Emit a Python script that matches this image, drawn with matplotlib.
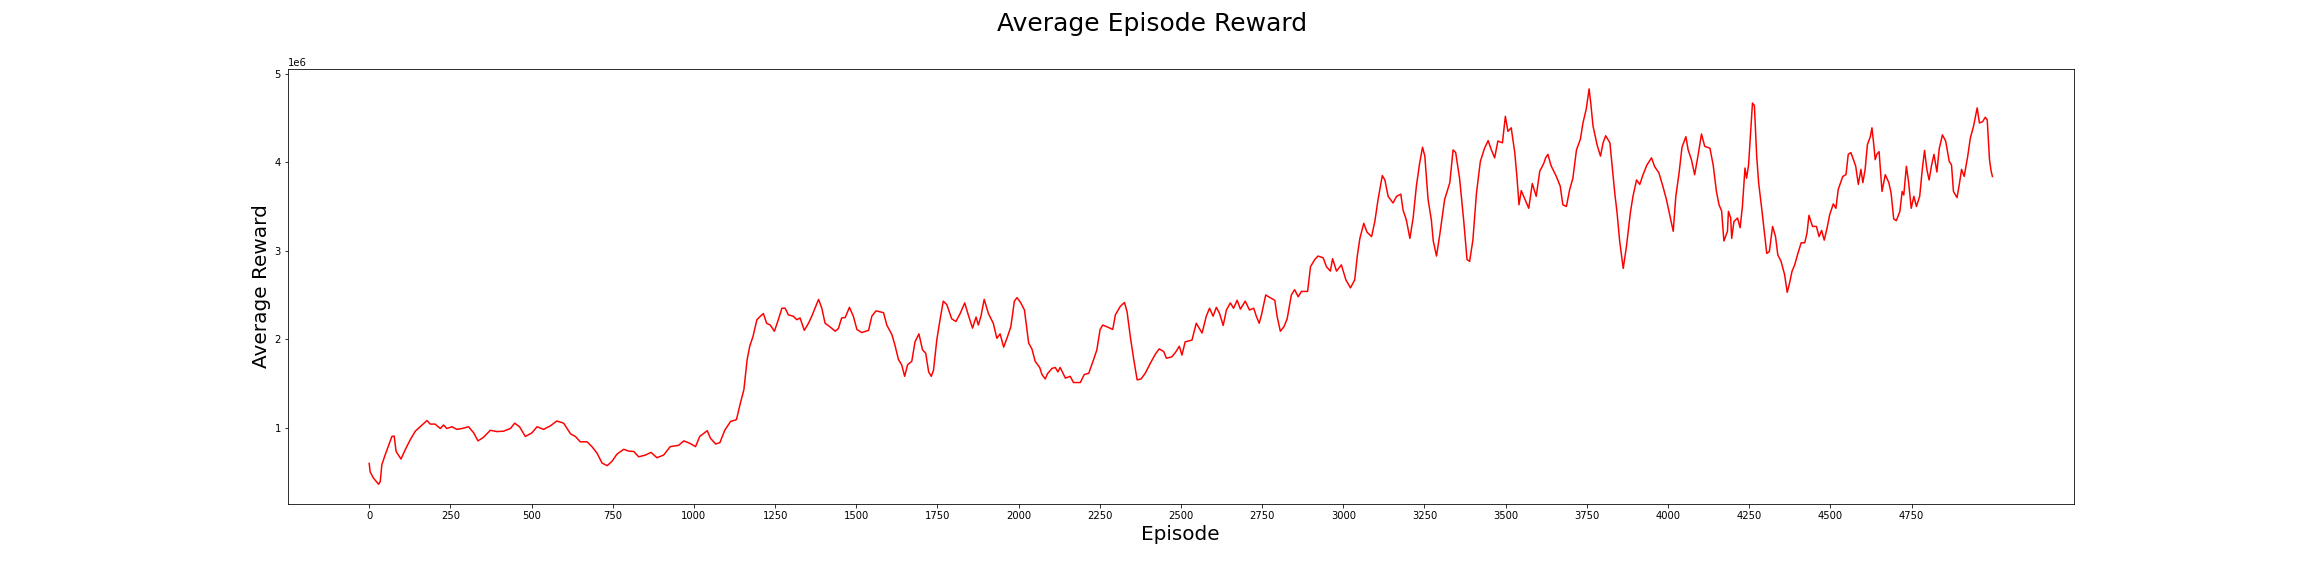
import matplotlib
matplotlib.use("Agg")
import matplotlib.pyplot as plt
import numpy as np

episodes = [
    0, 3, 13, 29, 34, 39, 49, 60, 70, 77, 83, 98, 111, 126, 142, 157, 178, 188, 203, 219,
    229, 239, 255, 270, 286, 306, 322, 335, 352, 373, 394, 414, 435, 448, 463, 481, 501, 517, 537, 558,
    578, 599, 620, 635, 650, 671, 686, 702, 717, 733, 748, 763, 784, 799, 815, 830, 851, 868, 886, 907,
    927, 953, 969, 989, 1005, 1018, 1041, 1051, 1067, 1080, 1095, 1113, 1131, 1143, 1154, 1164, 1172, 1182, 1194, 1205,
    1214, 1224, 1235, 1248, 1260, 1271, 1281, 1291, 1306, 1317, 1327, 1340, 1353, 1363, 1373, 1384, 1394, 1404, 1419, 1435,
    1445, 1455, 1466, 1479, 1491, 1502, 1517, 1538, 1548, 1561, 1584, 1594, 1610, 1620, 1630, 1640, 1649, 1658, 1671, 1681,
    1693, 1704, 1714, 1723, 1731, 1738, 1748, 1758, 1768, 1779, 1794, 1807, 1820, 1834, 1845, 1858, 1869, 1876, 1884, 1894,
    1907, 1922, 1933, 1943, 1954, 1966, 1976, 1987, 1995, 2006, 2018, 2031, 2041, 2051, 2065, 2072, 2082, 2089, 2103, 2113,
    2121, 2128, 2144, 2159, 2169, 2190, 2202, 2216, 2231, 2241, 2251, 2259, 2272, 2290, 2298, 2313, 2326, 2334, 2344, 2354,
    2365, 2377, 2390, 2406, 2421, 2433, 2447, 2455, 2472, 2483, 2495, 2503, 2513, 2534, 2547, 2565, 2578, 2588, 2599, 2609,
    2619, 2630, 2640, 2652, 2662, 2673, 2683, 2698, 2711, 2724, 2732, 2741,
    2748, 2761, 2779, 2789, 2796, 2806, 2817, 2827, 2840, 2850, 2861, 2871, 2890, 2899, 2912, 2922, 2938, 2948, 2960, 2967,
    2979, 2994, 3008, 3022, 3035, 3043, 3051, 3063, 3073, 3087, 3097, 3107, 3120, 3128, 3138, 3153, 3164, 3177, 3184, 3194,
    3205, 3215, 3225, 3235, 3244, 3251, 3261, 3271, 3277, 3287, 3297, 3312, 3328, 3338, 3346, 3358, 3371, 3381, 3389, 3399,
    3410, 3422, 3435, 3446, 3456, 3466, 3476, 3490, 3499, 3507, 3517, 3528, 3535, 3541, 3548, 3562, 3571, 3582, 3594, 3605,
    3617, 3623, 3630, 3640, 3656, 3668, 3676, 3687, 3697, 3707, 3718, 3730, 3738, 3748, 3757, 3762, 3769, 3782, 3792, 3800,
    3808, 3821, 3829, 3836, 3843, 3851, 3862, 3872, 3884, 3892, 3903, 3913, 3923, 3935, 3949, 3959, 3972, 3984, 3995, 4005,
    4016, 4024, 4034, 4043, 4055, 4062, 4072, 4082, 4093, 4103, 4113, 4129, 4139, 4149,
    4157, 4165, 4172, 4183, 4186, 4193, 4196, 4203, 4214, 4222, 4229, 4237, 4242, 4248, 4253, 4260, 4266, 4273, 4279, 4283,
    4289, 4297, 4304, 4312, 4322, 4331, 4338, 4348, 4359, 4367, 4374, 4382, 4390, 4400, 4410, 4421, 4428, 4434, 4445, 4457,
    4465, 4473, 4481, 4490, 4498, 4509, 4517, 4524, 4538, 4548, 4555, 4563, 4571, 4578, 4586, 4594, 4600, 4607, 4614, 4623,
    4628, 4633, 4638, 4643, 4650, 4659, 4669, 4680, 4687, 4695, 4703, 4714, 4721, 4726, 4734, 4741, 4749, 4757, 4765, 4775,
    4783, 4790, 4797, 4804, 4811, 4819, 4828, 4835, 4845, 4855, 4866, 4873, 4879, 4890, 4897, 4904, 4912, 4923, 4931, 4941,
    4952, 4959, 4969, 4977, 4983, 4990, 4995, 4999,
]
reward_mio = [
    0.596, 0.50, 0.43, 0.36, 0.39, 0.58, 0.69, 0.80, 0.90, 0.905, 0.73, 0.645, 0.75, 0.86, 0.96, 1.01, 1.08, 1.04, 1.04, 0.99,
    1.03, 0.99, 1.01, 0.98, 0.99, 1.01, 0.94, 0.85, 0.89, 0.97, 0.955, 0.96, 0.99, 1.05, 1.01, 0.90, 0.94, 1.01, 0.98, 1.02,
    1.075, 1.05, 0.93, 0.90, 0.84, 0.84, 0.785, 0.71, 0.60, 0.57, 0.62, 0.70, 0.755, 0.735, 0.73, 0.67, 0.69, 0.72, 0.66, 0.69,
    0.785, 0.80, 0.85, 0.82, 0.785, 0.90, 0.965, 0.88, 0.815, 0.83, 0.97, 1.07, 1.09, 1.275, 1.43, 1.77, 1.92, 2.03, 2.22, 2.26,
    2.29, 2.18, 2.16, 2.09, 2.22, 2.35, 2.35, 2.275, 2.26, 2.22, 2.24, 2.10, 2.18, 2.26, 2.35, 2.45, 2.35, 2.18, 2.14, 2.09,
    2.12, 2.24, 2.245, 2.36, 2.26, 2.11, 2.075, 2.10, 2.26, 2.32, 2.30, 2.16, 2.05, 1.92, 1.77, 1.71, 1.58, 1.71, 1.75, 1.97,
    2.06, 1.88, 1.84, 1.63, 1.58, 1.65, 1.99, 2.22, 2.43, 2.39, 2.23, 2.20, 2.29, 2.41, 2.275, 2.125, 2.25, 2.16, 2.26, 2.45,
    2.29, 2.18, 2.01, 2.06, 1.91, 2.03, 2.14, 2.43, 2.47, 2.415, 2.33, 1.955, 1.89, 1.75, 1.68, 1.60, 1.55, 1.61, 1.67, 1.68,
    1.63, 1.68, 1.56, 1.58, 1.51, 1.51, 1.60, 1.615, 1.77, 1.88, 2.11, 2.16, 2.14, 2.11, 2.275, 2.37, 2.415, 2.31, 2.03, 1.785,
    1.54, 1.55, 1.615, 1.73, 1.83, 1.89, 1.86, 1.785, 1.80, 1.85, 1.92, 1.82, 1.97, 1.99, 2.18, 2.07, 2.26, 2.35, 2.26, 2.36,
    2.29, 2.155, 2.33, 2.41, 2.35, 2.44, 2.34, 2.43, 2.33, 2.35, 2.26, 2.18,
    2.275, 2.50, 2.46, 2.44, 2.26, 2.09, 2.14, 2.23, 2.50, 2.56, 2.48, 2.54, 2.54, 2.82, 2.90, 2.94, 2.92, 2.82, 2.77, 2.91,
    2.77, 2.84, 2.67, 2.58, 2.67, 2.94, 3.14, 3.31, 3.21, 3.16, 3.33, 3.58, 3.85, 3.80, 3.615, 3.54, 3.615, 3.64, 3.46, 3.35,
    3.14, 3.37, 3.73, 3.99, 4.17, 4.07, 3.58, 3.35, 3.11, 2.94, 3.18, 3.58, 3.77, 4.14, 4.11, 3.82, 3.33, 2.90, 2.88, 3.12,
    3.65, 4.01, 4.16, 4.245, 4.14, 4.05, 4.24, 4.22, 4.52, 4.35, 4.39, 4.11, 3.82, 3.52, 3.68, 3.56, 3.48, 3.76, 3.615, 3.90,
    3.985, 4.05, 4.09, 3.96, 3.84, 3.73, 3.52, 3.50, 3.69, 3.82, 4.14, 4.26, 4.445, 4.60, 4.83, 4.67, 4.41, 4.19, 4.07, 4.22,
    4.30, 4.22, 3.92, 3.65, 3.43, 3.11, 2.80, 3.05, 3.43, 3.615, 3.80, 3.75, 3.86, 3.97, 4.05, 3.95, 3.88, 3.73, 3.58, 3.41,
    3.22, 3.615, 3.88, 4.17, 4.29, 4.14, 4.03, 3.86, 4.09, 4.32, 4.18, 4.16, 3.97, 3.67,
    3.52, 3.45, 3.11, 3.22, 3.445, 3.37, 3.14, 3.33, 3.37, 3.26, 3.50, 3.935, 3.82, 3.97, 4.26, 4.67, 4.64, 4.07, 3.77, 3.65,
    3.46, 3.20, 2.97, 2.99, 3.275, 3.16, 2.955, 2.88, 2.73, 2.53, 2.63, 2.77, 2.84, 2.97, 3.09, 3.09, 3.20, 3.40, 3.275, 3.275,
    3.16, 3.23, 3.12, 3.26, 3.41, 3.53, 3.48, 3.69, 3.84, 3.86, 4.09, 4.11, 4.03, 3.955, 3.75, 3.92, 3.77, 3.92, 4.20, 4.29,
    4.39, 4.22, 4.03, 4.09, 4.12, 3.67, 3.86, 3.77, 3.65, 3.36, 3.34, 3.445, 3.67, 3.63, 3.955, 3.77, 3.48, 3.615, 3.50, 3.615,
    3.92, 4.135, 3.92, 3.80, 3.955, 4.09, 3.89, 4.15, 4.31, 4.24, 4.01, 3.97, 3.67, 3.60, 3.75, 3.92, 3.84, 4.07, 4.275, 4.41,
    4.615, 4.445, 4.46, 4.51, 4.48, 4.03, 3.90, 3.84,
]

rewards = np.array(reward_mio) * 1e6

fig = plt.figure(figsize=(32, 8), dpi=72)
ax = fig.add_axes([0.125, 0.125, 0.775, 0.755])
ax.plot(episodes, rewards, color="red", linewidth=1.5)
fig.suptitle("Average Episode Reward", fontsize=25)
ax.set_xlabel("Episode", fontsize=20)
ax.set_ylabel("Average Reward", fontsize=20)
ax.set_xticks(range(0, 5000, 250))
ax.set_xlim(-250, 5249)

fig.savefig("out.png", dpi=72)
